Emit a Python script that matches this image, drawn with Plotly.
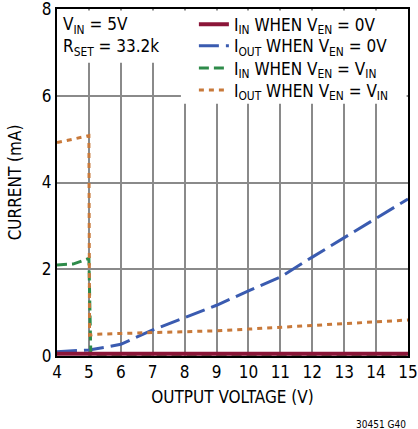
import plotly.graph_objects as go

# ---- datos ----
v_rojo = [4, 15]
i_in_en0 = [0.05, 0.05]

v_azul = [4, 5, 5.5, 6, 7, 8, 9, 10, 11, 12, 13, 14, 15]
i_out_en0 = [0.1, 0.14, 0.2, 0.27, 0.6, 0.88, 1.17, 1.5, 1.82, 2.28, 2.73, 3.18, 3.62]

v_verde = [4, 4.5, 5.0, 5.06, 5.3, 15]
i_in_envin = [2.1, 2.12, 2.25, 0.03, 0.03, 0.03]

v_naranja = [4, 4.5, 5.0, 5.02, 5.2, 6, 7, 8, 9, 10, 11, 12, 13, 14, 15]
i_out_envin = [4.92, 5.0, 5.08, 0.48, 0.5, 0.52, 0.54, 0.56, 0.58, 0.62, 0.66, 0.7, 0.74, 0.78, 0.83]

x_ticks = list(range(4, 16))
y_ticks = [0, 2, 4, 6, 8]

FUENTE = "DejaVu Sans Condensed, Liberation Sans Narrow, sans-serif"

fig = go.Figure()

fig.add_trace(go.Scatter(
    x=v_azul, y=i_out_en0, mode="lines", legend="legend2",
    name="I<sub>OUT</sub> WHEN V<sub>EN</sub> = 0V",
    line=dict(color="#3a5bb0", width=3, dash="20px,7px"),
))
fig.add_trace(go.Scatter(
    x=v_verde, y=i_in_envin, mode="lines", legend="legend3",
    name="I<sub>IN</sub> WHEN V<sub>EN</sub> = V<sub>IN</sub>",
    line=dict(color="#2e8b4a", width=3, dash="10px,5px"),
))
fig.add_trace(go.Scatter(
    x=v_naranja, y=i_out_envin, mode="lines", legend="legend4",
    name="I<sub>OUT</sub> WHEN V<sub>EN</sub> = V<sub>IN</sub>",
    line=dict(color="#c8793a", width=3, dash="5px,5px"),
))
# la linea roja va encima
fig.add_trace(go.Scatter(
    x=v_rojo, y=i_in_en0, mode="lines", legend="legend",
    name="I<sub>IN</sub> WHEN V<sub>EN</sub> = 0V",
    line=dict(color="#8b1538", width=4),
))

# cajas blancas que tapan la rejilla detras de los textos
fig.add_shape(type="rect", xref="paper", yref="paper", layer="above",
              x0=0.004, x1=0.31, y0=0.845, y1=0.996, fillcolor="white", line_width=0)
fig.add_shape(type="rect", xref="paper", yref="paper", layer="above",
              x0=0.353, x1=0.996, y0=0.727, y1=0.996, fillcolor="white", line_width=0)

fig.add_annotation(
    xref="paper", yref="paper", x=0.01, y=0.99,
    xanchor="left", yanchor="top", align="left",
    text="V<sub>IN</sub> = 5V<br>R<sub>SET</sub> = 33.2k",
    showarrow=False,
    font=dict(family=FUENTE, size=17, color="black"),
)
fig.add_annotation(
    xref="paper", yref="paper", x=1.0, y=-0.175,
    xanchor="right", yanchor="top",
    text="30451 G40", showarrow=False,
    font=dict(family=FUENTE, size=10, color="black"),
)

# una leyenda por entrada para fijar el espaciado vertical
leyenda_base = dict(
    x=0.39, xanchor="left", yanchor="middle",
    bgcolor="rgba(0,0,0,0)", borderwidth=0,
    font=dict(family=FUENTE, size=17, color="black"),
)
fig.update_layout(
    legend=dict(leyenda_base, y=0.952),
    legend2=dict(leyenda_base, y=0.890),
    legend3=dict(leyenda_base, y=0.826),
    legend4=dict(leyenda_base, y=0.763),
)

fig.update_layout(
    width=418, height=429,
    margin=dict(l=57, r=10, t=8, b=73),
    paper_bgcolor="white", plot_bgcolor="white",
    font=dict(family=FUENTE, size=17, color="black"),
    showlegend=True,
    xaxis=dict(
        range=[4, 15], tickvals=x_ticks, ticks="",
        ticklabeloverflow="allow", automargin=False,
        showgrid=True, gridcolor="#8a8a8a", gridwidth=1.5,
        showline=True, linecolor="black", linewidth=2, mirror=True,
        zeroline=False,
        title=dict(text="OUTPUT VOLTAGE (V)", font=dict(size=17), standoff=10),
    ),
    yaxis=dict(
        range=[0, 8], tickvals=y_ticks, ticks="",
        ticklabeloverflow="allow", automargin=False,
        showgrid=True, gridcolor="#8a8a8a", gridwidth=1.5,
        showline=True, linecolor="black", linewidth=2, mirror=True,
        zeroline=False,
        title=dict(text="CURRENT (mA)", font=dict(size=17), standoff=16),
    ),
)

# quitar el margen por defecto del body para que la figura ocupe la ventana
fig.write_html("out.html", config={"displayModeBar": False},
               post_script="document.body.style.margin='0';")
